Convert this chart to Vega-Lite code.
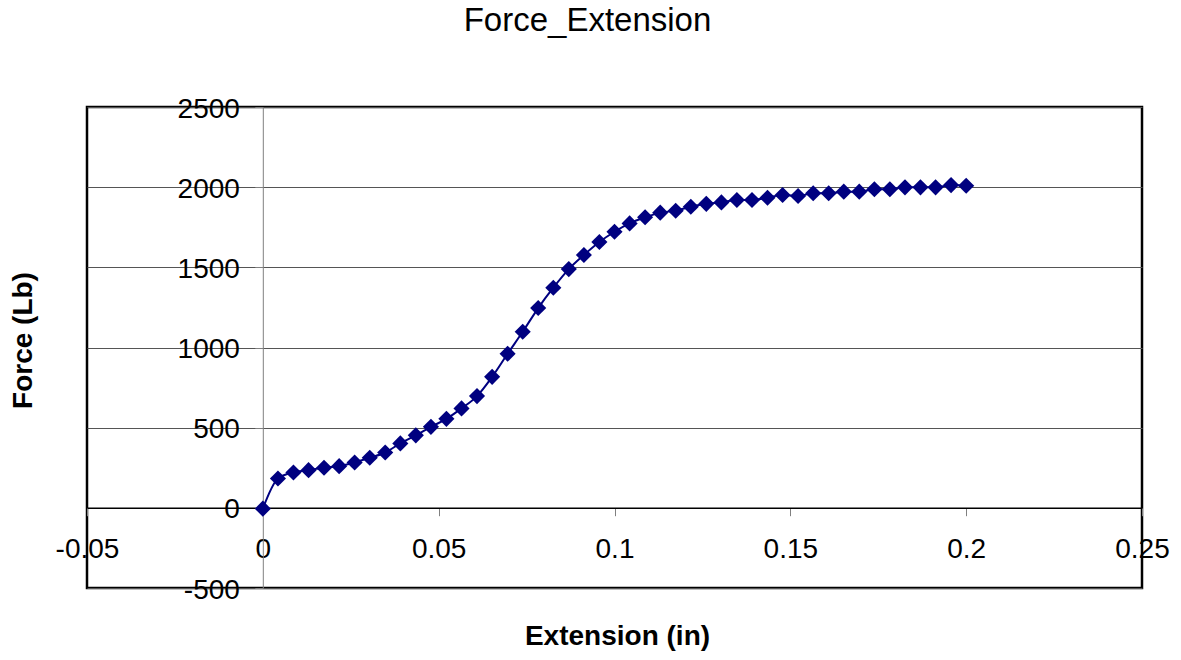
{
  "$schema": "https://vega.github.io/schema/vega-lite/v6.json",
  "width": 1055,
  "height": 481,
  "autosize": {"type": "none"},
  "padding": {"left": 87, "top": 107, "right": 39, "bottom": 72},
  "background": "white",
  "title": {
    "text": "Force_Extension",
    "font": "Liberation Sans",
    "fontSize": 33,
    "fontWeight": "normal",
    "color": "black",
    "anchor": "middle",
    "frame": "group",
    "baseline": "alphabetic",
    "dx": -27,
    "offset": 31
  },
  "config": {
    "view": {"stroke": "black", "strokeWidth": 2.5},
    "font": "Liberation Sans"
  },
  "data": {
    "values": [
      {"x": 0, "y": -5},
      {"x": 0.0043, "y": 183},
      {"x": 0.0087, "y": 220},
      {"x": 0.013, "y": 235},
      {"x": 0.0174, "y": 250},
      {"x": 0.0217, "y": 260},
      {"x": 0.0261, "y": 283},
      {"x": 0.0304, "y": 312},
      {"x": 0.0348, "y": 345},
      {"x": 0.0391, "y": 402},
      {"x": 0.0435, "y": 452},
      {"x": 0.0478, "y": 505},
      {"x": 0.0522, "y": 555},
      {"x": 0.0565, "y": 620},
      {"x": 0.0609, "y": 697},
      {"x": 0.0652, "y": 817},
      {"x": 0.0696, "y": 961},
      {"x": 0.0739, "y": 1098},
      {"x": 0.0783, "y": 1246},
      {"x": 0.0826, "y": 1373},
      {"x": 0.087, "y": 1489},
      {"x": 0.0913, "y": 1577},
      {"x": 0.0957, "y": 1658},
      {"x": 0.1, "y": 1722},
      {"x": 0.1043, "y": 1774},
      {"x": 0.1087, "y": 1812},
      {"x": 0.113, "y": 1841},
      {"x": 0.1174, "y": 1853},
      {"x": 0.1217, "y": 1878},
      {"x": 0.1261, "y": 1896},
      {"x": 0.1304, "y": 1905},
      {"x": 0.1348, "y": 1920},
      {"x": 0.1391, "y": 1920},
      {"x": 0.1435, "y": 1934},
      {"x": 0.1478, "y": 1951},
      {"x": 0.1522, "y": 1945},
      {"x": 0.1565, "y": 1962},
      {"x": 0.1609, "y": 1962},
      {"x": 0.1652, "y": 1972},
      {"x": 0.1696, "y": 1972},
      {"x": 0.1739, "y": 1987},
      {"x": 0.1783, "y": 1987},
      {"x": 0.1826, "y": 1999},
      {"x": 0.187, "y": 1999},
      {"x": 0.1913, "y": 1999},
      {"x": 0.1957, "y": 2013},
      {"x": 0.2, "y": 2009}
    ]
  },
  "encoding": {
    "x": {
      "field": "x",
      "type": "quantitative",
      "scale": {"domain": [-0.05, 0.25], "nice": false, "zero": false},
      "axis": {
        "title": "Extension (in)",
        "titleFont": "Liberation Sans",
        "titleFontSize": 28,
        "titleFontWeight": "bold",
        "titleColor": "black",
        "titleX": 530,
        "titleY": 137,
        "titleAlign": "center",
        "titleBaseline": "alphabetic",
        "offset": -80.3,
        "values": [-0.05, 0, 0.05, 0.1, 0.15, 0.2, 0.25],
        "labelExpr": "datum.value < 0 ? '-' + format(-datum.value, '~g') : format(datum.value, '~g')",
        "grid": false,
        "domainColor": "black",
        "domainWidth": 1.5,
        "tickColor": "#808080",
        "tickSize": 8,
        "tickWidth": 1,
        "labelFont": "Liberation Sans",
        "labelFontSize": 28,
        "labelColor": "black",
        "labelBaseline": "alphabetic",
        "labelPadding": 42,
        "labelFlush": false,
        "labelOverlap": false,
        "labelBound": false
      }
    },
    "y": {
      "field": "y",
      "type": "quantitative",
      "scale": {"domain": [-500, 2500], "nice": false, "zero": false},
      "axis": {
        "title": "Force (Lb)",
        "titleFont": "Liberation Sans",
        "titleFontSize": 28,
        "titleFontWeight": "bold",
        "titleColor": "black",
        "titleAngle": -90,
        "titleX": -231,
        "titleY": 233,
        "titleAlign": "center",
        "titleBaseline": "alphabetic",
        "offset": -175.8,
        "values": [-500, 0, 500, 1000, 1500, 2000, 2500],
        "labelExpr": "datum.value < 0 ? '-' + format(-datum.value, 'd') : format(datum.value, 'd')",
        "grid": true,
        "gridColor": "#555555",
        "gridWidth": 1,
        "domainColor": "#808080",
        "domainWidth": 1,
        "tickColor": "#808080",
        "tickSize": 8,
        "tickWidth": 1,
        "labelFont": "Liberation Sans",
        "labelFontSize": 28,
        "labelColor": "black",
        "labelBaseline": "middle",
        "labelOffset": 2,
        "labelPadding": 15.4,
        "labelFlush": false,
        "labelOverlap": false,
        "labelBound": false
      }
    }
  },
  "layer": [
    {
      "mark": {"type": "line", "interpolate": "monotone", "color": "#000080", "strokeWidth": 2}
    },
    {
      "mark": {"type": "point", "shape": "diamond", "filled": true, "size": 260, "color": "#000080", "opacity": 1}
    }
  ]
}
